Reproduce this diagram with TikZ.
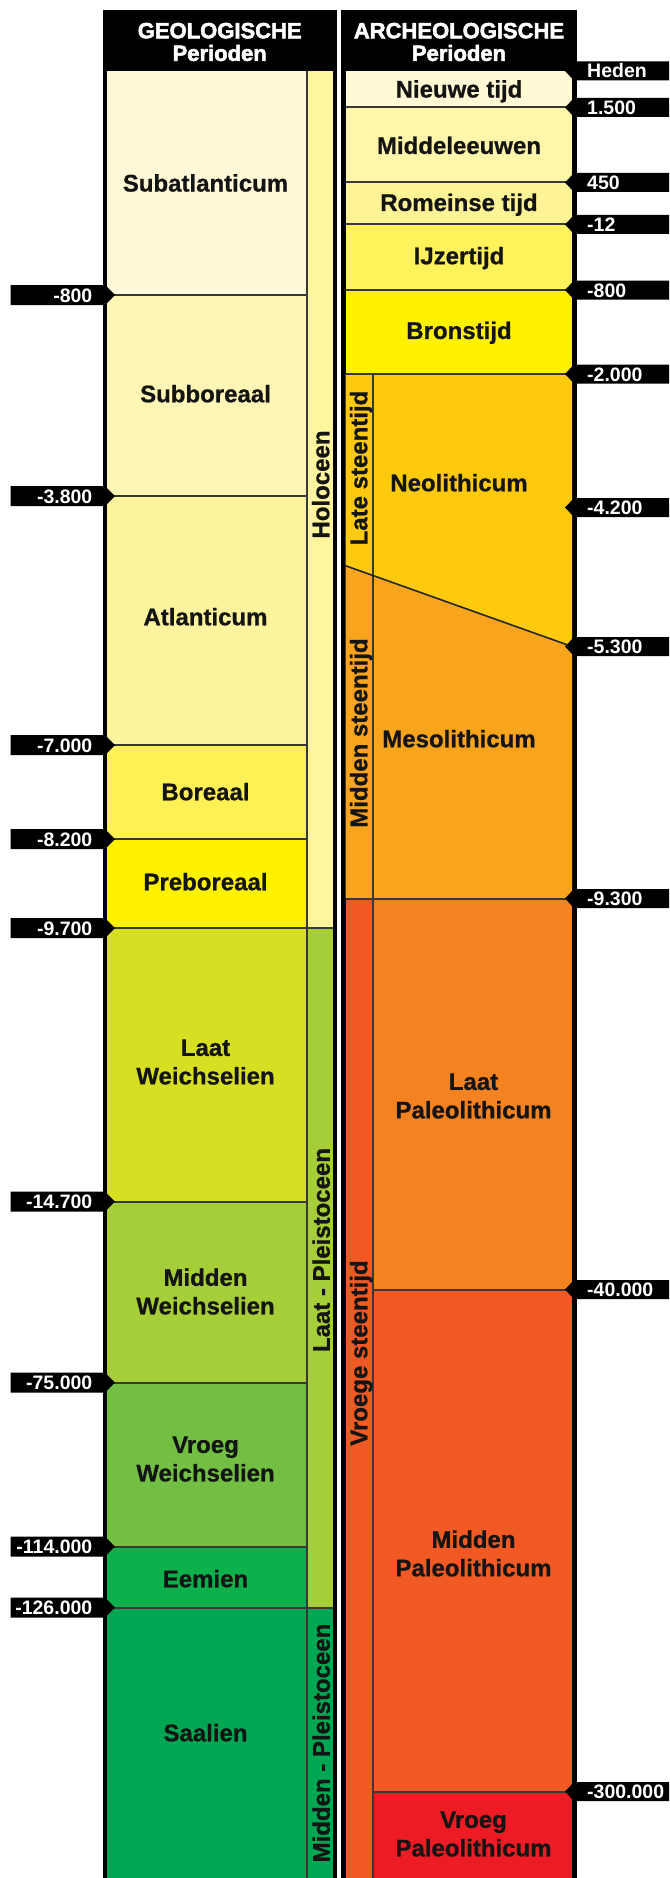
\documentclass[tikz,border=0pt]{standalone}
\usepackage{fontspec}
\setmainfont{Liberation Sans}
\font\hdrfnt="Liberation Sans/B:embolden=2.5" at 22pt
\font\lblfnt="Liberation Sans/B:embolden=0.8" at 24pt
\definecolor{subatl}{HTML}{FFF9DA}
\definecolor{subbor}{HTML}{FFF6B6}
\definecolor{atlan}{HTML}{FFF49E}
\definecolor{boreaal}{HTML}{FFF155}
\definecolor{prebor}{HTML}{FFF200}
\definecolor{holoc}{HTML}{FFF59D}
\definecolor{laatw}{HTML}{D7DF23}
\definecolor{middw}{HTML}{A6CE39}
\definecolor{vroegw}{HTML}{72BF44}
\definecolor{eemien}{HTML}{0DB04B}
\definecolor{saalien}{HTML}{00A651}
\definecolor{nieuwe}{HTML}{FFF9D6}
\definecolor{middel}{HTML}{FFF6AA}
\definecolor{romein}{HTML}{FFF495}
\definecolor{ijzer}{HTML}{FFF25A}
\definecolor{brons}{HTML}{FFF200}
\definecolor{neo}{HTML}{FFC90E}
\definecolor{meso}{HTML}{F8A51D}
\definecolor{laatp}{HTML}{F58220}
\definecolor{middp}{HTML}{F15A24}
\definecolor{vroegp}{HTML}{ED1C24}
\begin{document}
\begin{tikzpicture}[x=1pt,y=-1pt,
  div/.style={line width=2pt, draw=black!78},
  lbl/.style={font=\fontsize{24}{28.5}\selectfont\lblfnt, align=center, inner sep=0pt, text=black!92},
  one/.style={lbl, text height=16.5pt, text depth=0pt},
  vlbl/.style={one, rotate=90},
  hdr/.style={font=\fontsize{22}{22.6}\selectfont\hdrfnt, align=center, inner sep=0pt, text=white},
  tagtxt/.style={font=\fontsize{19.5}{20}\selectfont\bfseries, inner sep=0pt, text=white, text height=14pt, text depth=0pt},
]
\useasboundingbox (0,0) rectangle (669,1878);
% column frames
\fill[black] (102.5,10.5) rectangle (337,1878);
\fill[black] (341,10.5) rectangle (577,1878);
% left main cells
\fill[subatl]  (107,71)     rectangle (307,295);
\fill[subbor]  (107,295)    rectangle (307,496);
\fill[atlan]   (107,496)    rectangle (307,745);
\fill[boreaal] (107,745)    rectangle (307,839);
\fill[prebor]  (107,839)    rectangle (307,928);
\fill[laatw]   (107,928)    rectangle (307,1201.5);
\fill[middw]   (107,1201.5) rectangle (307,1382.5);
\fill[vroegw]  (107,1382.5) rectangle (307,1546.5);
\fill[eemien]  (107,1546.5) rectangle (307,1607.5);
\fill[saalien] (107,1607.5) rectangle (307,1878);
% left sub cells
\fill[holoc]   (307,71)     rectangle (333,928);
\fill[middw]   (307,928)    rectangle (333,1607.5);
\fill[saalien] (307,1607.5) rectangle (333,1878);
% right cells
\fill[nieuwe] (345.5,71)    rectangle (572,107.5);
\fill[middel] (345.5,107.5) rectangle (572,182.5);
\fill[romein] (345.5,182.5) rectangle (572,224.5);
\fill[ijzer]  (345.5,224.5) rectangle (572,290);
\fill[brons]  (345.5,290)   rectangle (572,374);
\fill[neo]  (345.5,374) -- (572,374) -- (572,646.5) -- (345.5,565.7) -- cycle;
\fill[meso] (345.5,565.7) -- (572,646.5) -- (572,898.5) -- (345.5,898.5) -- cycle;
\fill[middp]  (345.5,898.5) rectangle (373,1878);
\fill[laatp]  (373,898.5)   rectangle (572,1289.5);
\fill[middp]  (373,1289.5)  rectangle (572,1791.5);
\fill[vroegp] (373,1791.5)  rectangle (572,1878);
% dividers left
\foreach \yy in {295,496,745,839,1201.5,1382.5,1546.5}{\draw[div] (107,\yy) -- (307,\yy);}
\foreach \yy in {928,1607.5}{\draw[div] (107,\yy) -- (333,\yy);}
\draw[div] (307,71) -- (307,1878);
% dividers right
\foreach \yy in {107.5,182.5,224.5,290,374,898.5}{\draw[div] (345.5,\yy) -- (572,\yy);}
\foreach \yy in {1289.5,1791.5}{\draw[div] (373,\yy) -- (572,\yy);}
\draw[div] (373,374) -- (373,1878);
\draw[line width=1.6pt, draw=black!85] (345.5,565.7) -- (572,646.5);
% headers
\node[hdr] (hgeo) at (219.7,42) {GEOLOGISCHE\\Perioden};
\node[hdr] (harch) at (459,42) {ARCHEOLOGISCHE\\Perioden};
% left labels
\node[one] (subatlanticum) at (205.5,183.3) {Subatlanticum};
\node[one] (subboreaal) at (205.5,394) {Subboreaal};
\node[one] (atlanticum) at (205.5,617) {Atlanticum};
\node[one] (boreaal) at (205.5,792) {Boreaal};
\node[one] (preboreaal) at (205.5,882) {Preboreaal};
\node[lbl] (laatw) at (205.5,1062) {Laat\\Weichselien};
\node[lbl] (middw) at (205.5,1291.5) {Midden\\Weichselien};
\node[lbl] (vroegw) at (205.5,1459) {Vroeg\\Weichselien};
\node[one] (eemien) at (205.5,1579) {Eemien};
\node[one] (saalien) at (205.5,1733) {Saalien};
% vertical labels
\node[vlbl] (holoceen) at (321,484.5) {Holoceen};
\node[vlbl] (laatpl) at (321.5,1250) {Laat - Pleistoceen};
\node[vlbl] (middpl) at (321.5,1743) {Midden - Pleistoceen};
\node[vlbl] (latest) at (359,468) {Late steentijd};
\node[vlbl] (middst) at (359,733) {Midden steentijd};
\node[vlbl] (vroegst) at (359,1353) {Vroege steentijd};
% right labels
\node[one] (nieuwe) at (459,89.3) {Nieuwe tijd};
\node[one] (middel) at (459,145.7) {Middeleeuwen};
\node[one] (romein) at (459,202.7) {Romeinse tijd};
\node[one] (ijzer) at (459,256) {IJzertijd};
\node[one] (brons) at (459,330.7) {Bronstijd};
\node[one] (neolith) at (459,483) {Neolithicum};
\node[one] (mesolith) at (459,739) {Mesolithicum};
\node[lbl] (laatpal) at (473.5,1096) {Laat\\Paleolithicum};
\node[lbl] (middpal) at (473.5,1553.5) {Midden\\Paleolithicum};
\node[lbl] (vroegpal) at (473.5,1834) {Vroeg\\Paleolithicum};
% left tags
\foreach \yy/\t [count=\i] in {295/-800, 496/-3.800, 745/-7.000, 839/-8.200, 928/-9.700, 1201.5/-14.700, 1382.5/-75.000, 1546.5/-114.000, 1607.5/-126.000}{
  \fill[black] (10.7,\yy-10) -- (105,\yy-10) -- (115,\yy) -- (105,\yy+10) -- (10.7,\yy+10) -- cycle;
  \node[tagtxt, anchor=east] (lt\i) at (92.5,\yy) {\t};
}
% right tags
\foreach \yy/\t [count=\i] in {71/Heden, 107.5/1.500, 182.5/450, 224.5/-12, 290/-800, 374/-2.000, 507.5/-4.200, 646.5/-5.300, 898.5/-9.300, 1289.5/-40.000, 1791.5/-300.000}{
  \fill[black] (669,\yy-9.5) -- (574,\yy-9.5) -- (565,\yy) -- (574,\yy+9.5) -- (669,\yy+9.5) -- cycle;
  \node[tagtxt, anchor=west] (rt\i) at (587,\yy) {\t};
}
\end{tikzpicture}
\end{document}
